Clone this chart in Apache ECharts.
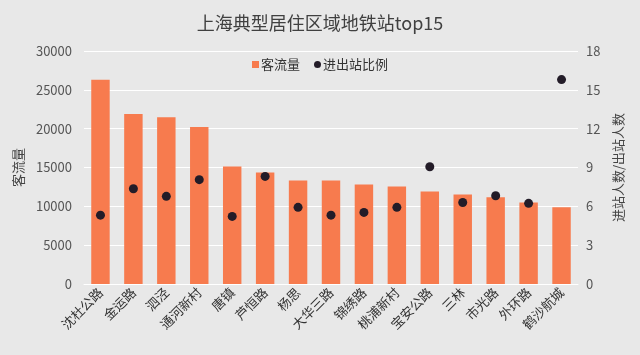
<!DOCTYPE html>
<html><head><meta charset="utf-8">
<script src="https://cdn.jsdelivr.net/npm/echarts@6/dist/echarts.min.js"></script>
<style>html,body{margin:0;padding:0;background:#e8e8e8;}#c{width:640px;height:355px;}</style>
</head><body><div id="c"></div>
<script>
const categories = ['沈杜公路','金运路','泗泾','通河新村','唐镇','芦恒路','杨思','大华三路','锦绣路','桃浦新村','宝安公路','三林','市光路','外环路','鹤沙航城'];
const flowValues = [26300, 21900, 21470, 20230, 15120, 14350, 13320, 13320, 12800, 12550, 11900, 11520, 11170, 10490, 9880];
const ratioValues = [5.32, 7.36, 6.77, 8.06, 5.22, 8.31, 5.92, 5.32, 5.53, 5.92, 9.06, 6.30, 6.82, 6.23, 15.79];
const leftTicks = {min: 0, max: 30000, interval: 5000};
const rightTicks = {min: 0, max: 18, interval: 3};

const font = '"Noto Sans CJK SC", "Noto Sans", sans-serif';
const chart = echarts.init(document.getElementById('c'));
chart.setOption({
  backgroundColor: '#e8e8e8',
  animation: false,
  textStyle: {fontFamily: font},
  title: {text: '上海典型居住区域地铁站top15', left: 'center', top: 9,
    textStyle: {fontSize: 18, fontWeight: 'normal', color: '#404040', fontFamily: font}},
  legend: {top: 53, left: 'center', itemWidth: 7, itemHeight: 7, itemGap: 14,
    textStyle: {fontSize: 13, color: '#333', padding: [0,0,0,-3]},
    data: [{name: '客流量', icon: 'rect'}, {name: '进出站比例', icon: 'circle'}]},
  grid: {left: 84, right: 62, top: 51, bottom: 71},
  xAxis: {type: 'category', data: categories,
    axisLine: {show: true, lineStyle: {color: '#ffffff', width: 1}},
    axisTick: {show: false},
    axisLabel: {rotate: 45, fontSize: 13, color: '#333', margin: 6, interval: 0}},
  yAxis: [
    {type: 'value', min: leftTicks.min, max: leftTicks.max, interval: leftTicks.interval,
      name: '客流量', nameLocation: 'middle', nameGap: 54, nameRotate: 90,
      nameTextStyle: {fontSize: 13, color: '#444'},
      axisLine: {show: false}, axisTick: {show: false},
      axisLabel: {fontSize: 13, color: '#555', margin: 12, formatter: v => String(v)},
      splitLine: {lineStyle: {color: '#ffffff', width: 1.2}}},
    {type: 'value', min: rightTicks.min, max: rightTicks.max, interval: rightTicks.interval,
      name: '进站人数/出站人数', nameLocation: 'middle', nameGap: 32, nameRotate: 90,
      nameTextStyle: {fontSize: 13, color: '#444'},
      axisLine: {show: false}, axisTick: {show: false},
      axisLabel: {fontSize: 13, color: '#555', margin: 8},
      splitLine: {show: false}}
  ],
  series: [
    {name: '客流量', type: 'bar', data: flowValues, barWidth: '56%',
      itemStyle: {color: '#f77b4e'}},
    {name: '进出站比例', type: 'scatter', yAxisIndex: 1, data: ratioValues,
      symbolSize: 9, itemStyle: {color: '#231c28', opacity: 1}}
  ]
});
</script></body></html>
